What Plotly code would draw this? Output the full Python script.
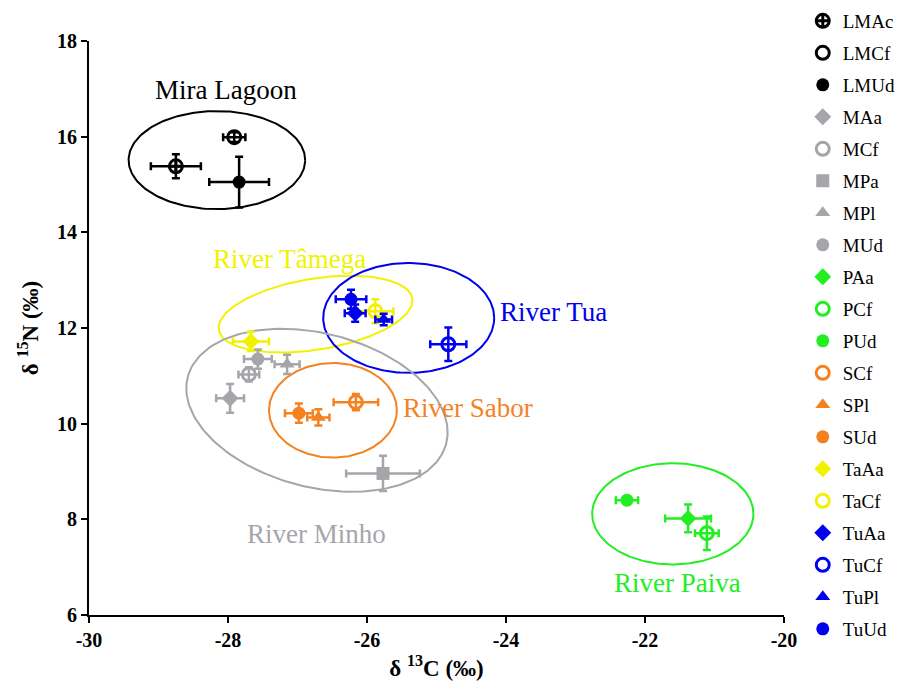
import numpy as np
import plotly.graph_objects as go

# ---- data ----
names = ["LMAc", "LMCf", "LMUd", "MAa", "MCf", "MPa", "MPl", "MUd", "PAa", "PCf",
         "PUd", "SCf", "SPl", "SUd", "TaAa", "TaCf", "TuAa", "TuCf", "TuPl", "TuUd"]
d13C = [-28.75, -27.91, -27.84, -27.97, -27.70, -25.77, -27.15, -27.57, -21.38, -21.11,
        -22.26, -26.16, -26.70, -26.98, -27.67, -25.88, -26.17, -24.83, -25.76, -26.23]
d15N = [15.38, 15.99, 15.05, 10.53, 11.03, 8.96, 11.24, 11.35, 8.02, 7.71,
        8.40, 10.45, 10.13, 10.22, 11.72, 12.35, 12.31, 11.66, 12.18, 12.60]
sd13C = [0.36, 0.16, 0.43, 0.20, 0.15, 0.53, 0.18, 0.20, 0.33, 0.17,
         0.16, 0.32, 0.16, 0.20, 0.26, 0.26, 0.15, 0.26, 0.12, 0.22]
sd15N = [0.25, 0.10, 0.53, 0.30, 0.15, 0.37, 0.20, 0.20, 0.29, 0.35,
         0.08, 0.17, 0.17, 0.20, 0.20, 0.25, 0.18, 0.35, 0.12, 0.20]
groups = ["Mira", "Mira", "Mira", "Minho", "Minho", "Minho", "Minho", "Minho", "Paiva", "Paiva",
          "Paiva", "Sabor", "Sabor", "Sabor", "Tamega", "Tamega", "Tua", "Tua", "Tua", "Tua"]
symbols = ["circle-cross-open", "circle-open", "circle", "diamond", "circle-open", "square",
           "triangle-up", "circle", "diamond", "circle-open", "circle", "circle-open",
           "triangle-up", "circle", "diamond", "circle-open", "diamond", "circle-open",
           "triangle-up", "circle"]

# tick values / labels
x_ticks = [-30, -28, -26, -24, -22, -20]
x_ticktext = ["-30", "-28", "-26", "-24", "-22", "-20"]
y_ticks = [6, 8, 10, 12, 14, 16, 18]
y_ticktext = ["6", "8", "10", "12", "14", "16", "18"]

# group ellipses: center (d13C, d15N), semi-axes in d13C units, screen angle (deg)
ell_names = ["Mira", "Tamega", "Tua", "Sabor", "Minho", "Paiva"]
ell_cx = [-28.16, -26.74, -25.40, -26.49, -26.72, -21.60]
ell_cy = [15.51, 12.29, 12.21, 10.28, 10.28, 8.115]
ell_a = [1.27, 1.41, 1.23, 0.92, 1.92, 1.16]
ell_b = [0.705, 0.51, 0.79, 0.68, 1.105, 0.727]
ell_ang = [0, 9.2, 0, 0, -14.4, 0]

labels = ["Mira Lagoon", "River Tâmega", "River Tua", "River Sabor", "River Minho", "River Paiva"]
lab_x = [-28.03, -27.12, -23.31, -24.55, -26.72, -21.53]
lab_y = [16.97, 13.44, 12.33, 10.32, 7.69, 6.66]

colors = {"Mira": "#000000", "Minho": "#A5A5AA", "Paiva": "#22EE22", "Sabor": "#F5821F",
          "Tamega": "#F2F200", "Tua": "#0000EE"}

SERIF = "Times New Roman, Liberation Serif, DejaVu Serif, serif"

# pixel scale ratio (px per d13C unit / px per d15N unit)
kx, ky = 69.5, 47.8

fig = go.Figure()

# ellipses
t = np.linspace(0, 2 * np.pi, 200)
for n, cx, cy, a, b, ang in zip(ell_names, ell_cx, ell_cy, ell_a, ell_b, ell_ang):
    th = np.radians(ang)
    dx = a * np.cos(t) * np.cos(th) - b * np.sin(t) * np.sin(th)
    dy = a * np.cos(t) * np.sin(th) + b * np.sin(t) * np.cos(th)
    fig.add_trace(go.Scatter(x=cx + dx, y=cy + dy * kx / ky, mode="lines",
                             line=dict(color=colors[n], width=2), showlegend=False,
                             hoverinfo="skip"))

# points
for i, nm in enumerate(names):
    c = colors[groups[i]]
    op = symbols[i].endswith("open")
    fig.add_trace(go.Scatter(
        x=[d13C[i]], y=[d15N[i]], mode="markers", name=nm, legendgroup=nm,
        marker=dict(symbol=symbols[i], size=13, color=c,
                    line=dict(color=c, width=3 if op else 0)),
        error_x=dict(type="data", array=[sd13C[i]], color=c, thickness=2.5, width=4),
        error_y=dict(type="data", array=[sd15N[i]], color=c, thickness=2.5, width=4),
    ))

for i, lab in enumerate(labels):
    fig.add_annotation(x=lab_x[i], y=lab_y[i], text=lab, showarrow=False,
                       font=dict(family=SERIF, size=27,
                                 color=colors[ell_names[i]]))

axis_common = dict(showgrid=False, zeroline=False, showline=True, linecolor="black",
                   linewidth=2, ticks="outside", ticklen=6, tickwidth=2, tickcolor="black",
                   automargin=False, tickmode="array",
                   tickfont=dict(family=SERIF, size=20, color="black", weight="bold"))

fig.update_layout(
    width=906, height=689,
    margin=dict(l=81, r=130, t=33, b=82, autoexpand=False),
    plot_bgcolor="white", paper_bgcolor="white",
    xaxis=dict(range=[-30, -20], tickvals=x_ticks, ticktext=x_ticktext,
               title=dict(text="δ <sup>13</sup>C (‰)", standoff=10,
                          font=dict(family=SERIF, size=23, color="black", weight="bold")),
               **axis_common),
    yaxis=dict(range=[6, 18], tickvals=y_ticks, ticktext=y_ticktext,
               title=dict(text="δ <sup>15</sup>N (‰)", standoff=12,
                          font=dict(family=SERIF, size=23, color="black", weight="bold")),
               **axis_common),
    legend=dict(x=1.027, xanchor="left", y=1.068, yanchor="top", tracegroupgap=4.3,
                maxheight=700,
                font=dict(family=SERIF, size=19, color="black"),
                bgcolor="rgba(0,0,0,0)"),
    showlegend=True,
)

fig.write_html("out.html")
